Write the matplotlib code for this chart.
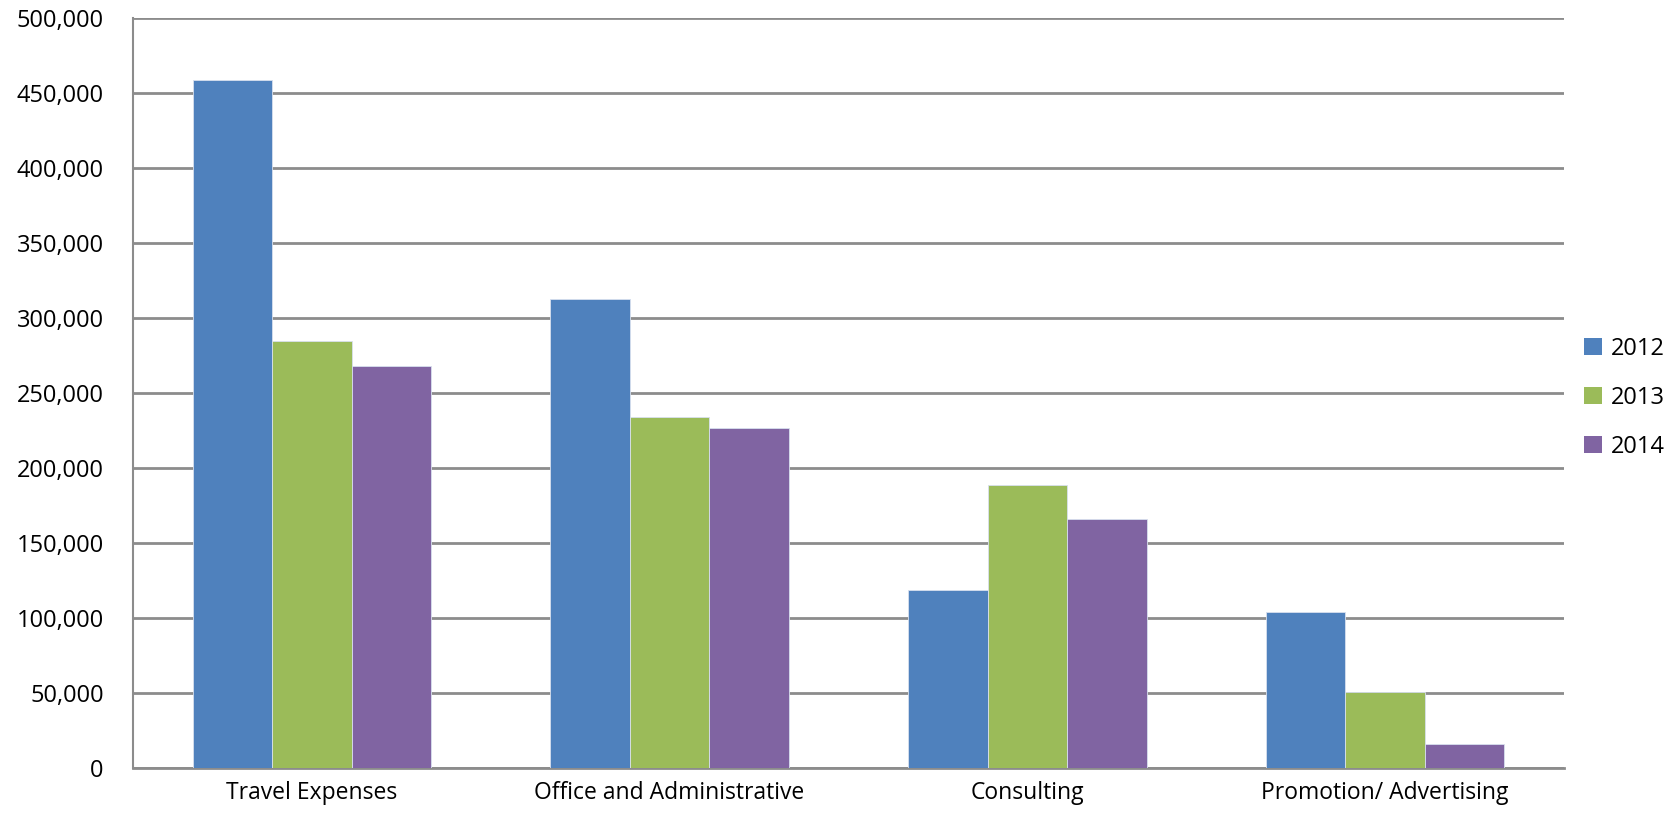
import matplotlib
matplotlib.use("Agg")
import matplotlib.pyplot as plt
import numpy as np
from matplotlib.patches import Patch
from matplotlib.ticker import FuncFormatter

categories = ["Travel Expenses", "Office and Administrative", "Consulting", "Promotion/ Advertising"]
years = ["2012", "2013", "2014"]
values_2012 = [459000, 313000, 119000, 104000]
values_2013 = [285000, 234000, 189000, 51000]
values_2014 = [268000, 227000, 166000, 16000]
colors = ["#4F81BD", "#9BBB59", "#8064A2"]

plt.rcParams['font.family'] = ['Open Sans', 'DejaVu Sans']

fig = plt.figure(figsize=(16.75, 8.15), dpi=100)
ax = fig.add_axes([0.0794, 0.0573, 0.9337 - 0.0794, 0.9775 - 0.0573])

x = np.arange(len(categories))
w = 2 / 9
series = [values_2012, values_2013, values_2014]
for i, (vals, c) in enumerate(zip(series, colors)):
    ax.bar(x + (i - 1) * w, vals, width=w, color=c, edgecolor="#d8e0ee", linewidth=0.6, zorder=3)

ax.set_xlim(-0.5, len(categories) - 0.5)
ax.set_ylim(0, 500000)
ax.set_yticks(np.arange(0, 500001, 50000))
ax.yaxis.set_major_formatter(FuncFormatter(lambda v, p: f"{int(v):,}"))
ax.grid(axis="y", color="#8c8c8c", linewidth=2, zorder=0)
ax.set_xticks(x)
ax.set_xticklabels(categories)
ax.tick_params(axis="both", length=0)
ax.tick_params(axis="x", pad=9, labelsize=16.5)
ax.tick_params(axis="y", pad=21, labelsize=17)
for s in ["top", "right"]:
    ax.spines[s].set_visible(False)
ax.spines["left"].set_color("#8c8c8c")
ax.spines["left"].set_linewidth(1.5)
ax.spines["bottom"].set_color("#8c8c8c")
ax.spines["bottom"].set_linewidth(2)

handles = [Patch(facecolor=c, edgecolor="none", label=y) for c, y in zip(colors, years)]
fig.legend(handles=handles, loc="center left", bbox_to_anchor=(0.933, 0.512),
           frameon=False, fontsize=17, handlelength=0.75, handleheight=0.75,
           handletextpad=0.4, labelspacing=1.05)

fig.savefig("out.png", dpi=100, facecolor="white")
